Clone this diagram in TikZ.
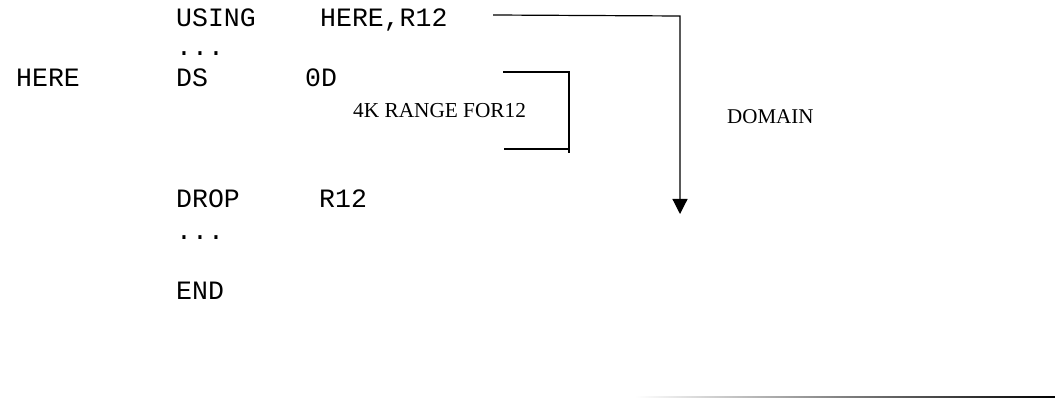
\documentclass[tikz,border=0pt]{standalone}
\usepackage{fontspec}
\setmainfont{Liberation Serif}
\setmonofont{Liberation Mono}
\usetikzlibrary{arrows.meta, positioning}
\tikzset{
  code/.style={anchor=base west, inner sep=0pt, font=\fontsize{26.5}{31}\selectfont\ttfamily},
  note/.style={anchor=base west, inner sep=0pt, font=\fontsize{21.3}{26}\selectfont},
  wire/.style={line width=1.2pt}
}
\begin{document}
\begin{tikzpicture}[x=1pt,y=-1pt]
            \useasboundingbox (0,0) rectangle (1055,398);

            % Assembler listing
            \node[code] (using) at (176,27) {USING};
            \node[code] (usingarg) at (320,27) {HERE,R12};
            \node[code] (dotsa) at (176,56) {...};
            \node[code] (label) at (16,87) {HERE};
            \node[code] (ds) at (176,87) {DS};
            \node[code] (dsarg) at (305,87) {0D};
            \node[code] (drop) at (176,208) {DROP};
            \node[code] (droparg) at (319,208) {R12};
            \node[code] (dotsb) at (176,240) {...};
            \node[code] (end) at (176,299) {END};

            % Notes
            \node[note] (range) at (353,118) {4K RANGE FOR12};
            \node[note, font=\fontsize{21}{25}\selectfont] (domain) at (727,124) {DOMAIN};

            % Domain arrow from USING down to DROP
            \coordinate (doma) at (493,15);
            \coordinate (domb) at (680,16);
            \coordinate (domc) at (680,214);
            \draw[wire, -{Triangle[length=15pt,width=15pt]}] (doma) -- (domb) -- (domc);

            % 4K range bracket
            \coordinate (rga) at (503,72);
            \coordinate (rgb) at (569,72);
            \coordinate (rgc) at (569,153);
            \coordinate (rgd) at (569,149);
            \coordinate (rge) at (504,149);
            \draw[wire] (rga) -- (rgb) -- (rgc);
            \draw[wire] (rgd) -- (rge);

            % Rule at the foot
            \shade[left color=white, right color=black] (635,396) rectangle (1055,398);
        \end{tikzpicture}
\end{document}
